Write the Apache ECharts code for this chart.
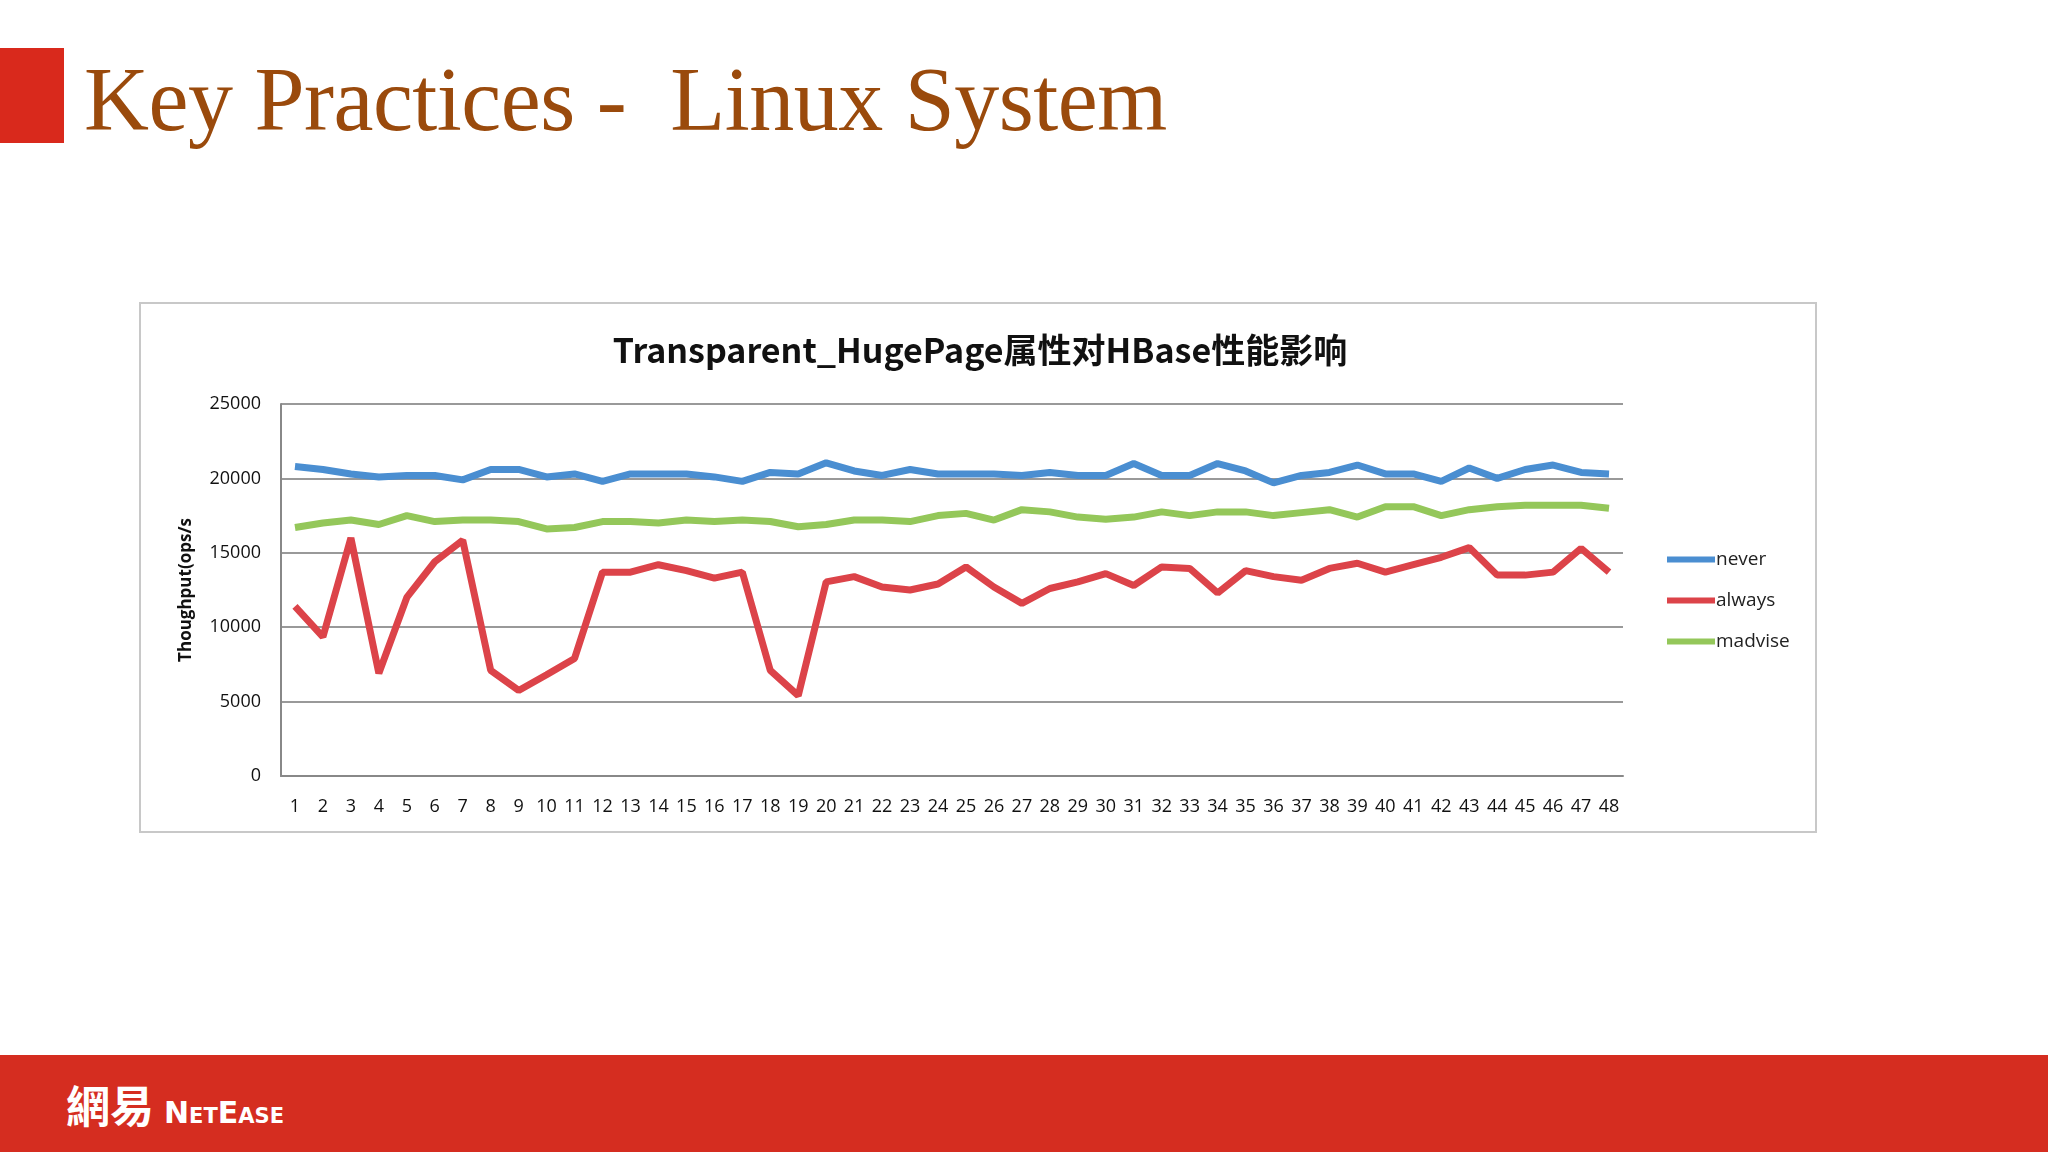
<!DOCTYPE html>
<html><head><meta charset="utf-8">
<script src="https://cdn.jsdelivr.net/npm/echarts@6/dist/echarts.min.js"></script>
<style>
html,body{margin:0;padding:0;width:2048px;height:1152px;background:#fff;overflow:hidden;position:relative;font-family:"Liberation Serif",serif}
#sq{position:absolute;left:0;top:48px;width:64px;height:95px;background:#d9291c}
#ttl{position:absolute;left:84px;top:55px;font-size:90px;color:#9a4a0c;font-family:"Liberation Serif",serif;line-height:1;white-space:pre;letter-spacing:-0.5px}
#box{position:absolute;left:139px;top:302px;width:1674px;height:527px;border:2px solid #c8c8c8}
#chart{position:absolute;left:0;top:0;width:2048px;height:1152px}
#bar{position:absolute;left:0;top:1055px;width:2048px;height:97px;background:#d52d20}
#logo{position:absolute;left:66px;top:1072px;color:#fff;font-family:"Noto Sans CJK SC",sans-serif;font-size:44px;font-weight:bold;white-space:nowrap}
#logo span{font-family:"DejaVu Sans",sans-serif;font-size:30px;font-variant:small-caps;margin-left:10px}
</style></head><body>
<div id="sq"></div>
<div id="ttl">Key Practices -  Linux System</div>
<div id="box"></div>
<div id="bar"></div>
<div id="logo">網易<span>NetEase</span></div>
<div id="chart"></div>
<script>
const categories = Array.from({length:48},(_,i)=>String(i+1));
const never = [20.8,20.6,20.3,20.1,20.2,20.2,19.9,20.6,20.6,20.1,20.3,19.8,20.3,20.3,20.3,20.1,19.8,20.4,20.3,21.05,20.5,20.2,20.6,20.3,
20.3,20.3,20.2,20.4,20.2,20.2,21.0,20.2,20.2,21.0,20.5,19.7,20.2,20.4,20.9,20.3,20.3,19.8,20.7,20.0,20.6,20.9,20.4,20.3].map(v=>v*1000);
const always = [11.4,9.35,16.0,6.9,12.0,14.4,15.85,7.1,5.75,6.8,7.9,13.7,13.7,14.2,13.8,13.3,13.7,7.1,5.4,13.05,13.4,12.7,12.5,12.9,
14.05,12.7,11.6,12.6,13.05,13.6,12.8,14.05,13.95,12.3,13.8,13.4,13.15,13.95,14.3,13.7,14.2,14.7,15.35,13.5,13.5,13.7,15.3,13.7].map(v=>v*1000);
const madvise = [16.7,17.0,17.2,16.9,17.5,17.1,17.2,17.2,17.1,16.6,16.7,17.1,17.1,17.0,17.2,17.1,17.2,17.1,16.75,16.9,17.2,17.2,17.1,17.5,
17.65,17.2,17.9,17.75,17.4,17.25,17.4,17.75,17.5,17.75,17.75,17.5,17.7,17.9,17.4,18.1,18.1,17.5,17.9,18.1,18.2,18.2,18.2,18.0].map(v=>v*1000);
const chart = echarts.init(document.getElementById('chart'));
const f = '"Open Sans","Noto Sans CJK SC",sans-serif';
chart.setOption({
  animation:false,
  title:{text:'Transparent_HugePage属性对HBase性能影响',left:975,top:328,textAlign:'center',
    textStyle:{fontSize:34,fontWeight:'bold',color:'#111',fontFamily:'"Noto Sans CJK SC",sans-serif'}},
  grid:{left:281,top:404,width:1342,height:372},
  legend:{orient:'vertical',left:1662,top:545,itemGap:22,itemWidth:48,itemHeight:6,icon:'rect',
    textStyle:{fontSize:19,color:'#222',fontFamily:f,padding:[0,0,0,-4]}},
  xAxis:{type:'category',data:categories,boundaryGap:true,
    axisLine:{lineStyle:{color:'#888',width:2}},axisTick:{show:false},
    axisLabel:{fontSize:18,color:'#111',margin:22,interval:0,fontFamily:f}},
  yAxis:{type:'value',min:0,max:25000,interval:5000,name:'Thoughput(ops/s',nameLocation:'middle',nameGap:86,
    nameTextStyle:{fontSize:17,fontWeight:'bold',color:'#111',fontFamily:f},
    axisLine:{show:true,lineStyle:{color:'#888',width:2}},
    axisLabel:{fontSize:18,color:'#111',margin:20,fontFamily:f,formatter:v=>String(v)},
    splitLine:{lineStyle:{color:'#999',width:2}}},
  series:[
    {name:'never',type:'line',data:never,symbol:'none',lineStyle:{width:7,color:'#4a8ed1'},itemStyle:{color:'#4a8ed1'}},
    {name:'always',type:'line',data:always,symbol:'none',lineStyle:{width:7,color:'#dc4349'},itemStyle:{color:'#dc4349'}},
    {name:'madvise',type:'line',data:madvise,symbol:'none',lineStyle:{width:7,color:'#94c75a'},itemStyle:{color:'#94c75a'}}
  ]
});
</script></body></html>
